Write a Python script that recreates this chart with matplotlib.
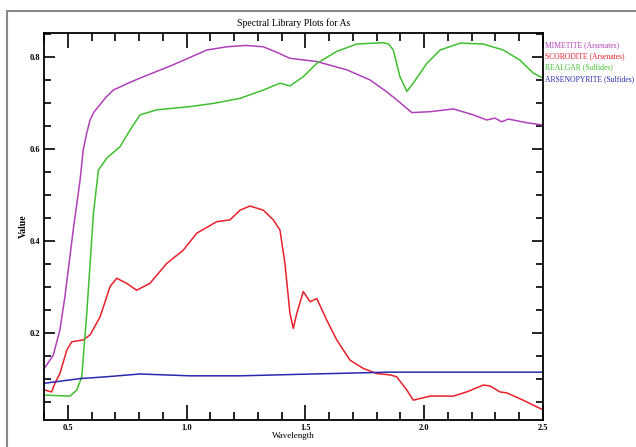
import matplotlib
matplotlib.use("Agg")
import matplotlib.pyplot as plt
from matplotlib.ticker import MultipleLocator
from matplotlib.patches import Rectangle

# spectra (wavelength, value)
mim_w = [0.404, 0.439, 0.467, 0.488, 0.523, 0.552, 0.565, 0.580, 0.594, 0.610, 0.629, 0.660,
         0.692, 0.750, 0.804, 0.944, 1.085, 1.169, 1.25, 1.323, 1.38, 1.435, 1.548, 1.674,
         1.772, 1.84, 1.884, 1.948, 2.025, 2.123, 2.207, 2.263, 2.298, 2.326, 2.354, 2.432, 2.5]
mim_v = [0.125, 0.152, 0.207, 0.279, 0.424, 0.533, 0.598, 0.635, 0.663, 0.680, 0.692, 0.712,
         0.728, 0.742, 0.754, 0.783, 0.815, 0.822, 0.825, 0.822, 0.81, 0.797, 0.79, 0.772,
         0.75, 0.725, 0.707, 0.679, 0.681, 0.687, 0.674, 0.663, 0.667, 0.659, 0.665, 0.657, 0.652]

sco_w = [0.404, 0.432, 0.446, 0.467, 0.496, 0.517, 0.565, 0.594, 0.636, 0.678, 0.706, 0.748,
         0.790, 0.846, 0.916, 0.986, 1.043, 1.127, 1.183, 1.225, 1.267, 1.323, 1.365, 1.393,
         1.414, 1.435, 1.449, 1.464, 1.491, 1.520, 1.548, 1.590, 1.632, 1.688, 1.744, 1.800,
         1.856, 1.884, 1.927, 1.954, 2.025, 2.123, 2.179, 2.249, 2.277, 2.319, 2.347, 2.417, 2.5]
sco_v = [0.076, 0.072, 0.091, 0.112, 0.163, 0.181, 0.185, 0.196, 0.235, 0.301, 0.319, 0.308,
         0.293, 0.308, 0.351, 0.380, 0.417, 0.442, 0.446, 0.467, 0.476, 0.467, 0.446, 0.424,
         0.351, 0.243, 0.210, 0.243, 0.290, 0.268, 0.275, 0.228, 0.185, 0.141, 0.123, 0.112,
         0.109, 0.105, 0.076, 0.054, 0.063, 0.063, 0.072, 0.087, 0.085, 0.072, 0.070, 0.054, 0.033]

rea_w = [0.404, 0.509, 0.538, 0.559, 0.580, 0.594, 0.608, 0.629, 0.664, 0.720, 0.762, 0.804,
         0.874, 1.014, 1.113, 1.225, 1.323, 1.393, 1.435, 1.491, 1.548, 1.632, 1.716, 1.828,
         1.850, 1.870, 1.898, 1.927, 1.954, 2.011, 2.067, 2.151, 2.249, 2.333, 2.403, 2.459, 2.5]
rea_v = [0.065, 0.063, 0.076, 0.105, 0.243, 0.351, 0.460, 0.554, 0.580, 0.605, 0.641, 0.674,
         0.685, 0.692, 0.699, 0.710, 0.728, 0.743, 0.737, 0.757, 0.786, 0.812, 0.828, 0.831,
         0.828, 0.815, 0.757, 0.725, 0.743, 0.786, 0.815, 0.830, 0.828, 0.815, 0.793, 0.765, 0.754]

ars_w = [0.404, 0.552, 0.664, 0.804, 1.014, 1.225, 1.533, 1.856, 2.2, 2.5]
ars_v = [0.091, 0.101, 0.105, 0.111, 0.107, 0.107, 0.111, 0.115, 0.115, 0.115]

names = ["MIMETITE (Arsenates)", "SCORODITE (Arsenates)", "REALGAR (Sulfides)",
         "ARSENOPYRITE (Sulfides)"]
colors = ["#b040b8", "#e8202a", "#40c030", "#2828b0"]

serif = "Liberation Serif"

fig = plt.figure(figsize=(6.36, 4.47), dpi=100)
ax = fig.add_axes([44 / 636, 27 / 447, 499 / 636, 387 / 447])

series = [(mim_w, mim_v), (sco_w, sco_v), (rea_w, rea_v), (ars_w, ars_v)]
for (w, v), c in zip(series, colors):
    ax.plot(w, v, color=c, lw=1.1)

ax.set_xlim(0.4, 2.5)
ax.set_ylim(0.011, 0.852)

ax.xaxis.set_major_locator(MultipleLocator(0.5))
ax.xaxis.set_minor_locator(MultipleLocator(0.1))
ax.yaxis.set_major_locator(MultipleLocator(0.2))
ax.yaxis.set_minor_locator(MultipleLocator(0.05))
ax.tick_params(axis="x", which="major", direction="in", length=11, width=1.2,
               top=True, labelsize=6, pad=3)
ax.tick_params(axis="x", which="minor", direction="in", length=6, width=1.2, top=True)
ax.tick_params(axis="y", which="major", direction="in", length=8, width=1.2,
               right=True, labelsize=6, pad=3)
ax.tick_params(axis="y", which="minor", direction="in", length=5, width=1.2, right=True)
ax.xaxis.set_major_formatter(plt.FuncFormatter(lambda x, p: f"{x:.1f}"))
ax.yaxis.set_major_formatter(plt.FuncFormatter(lambda y, p: f"{y:.1f}"))
for lab in ax.get_xticklabels() + ax.get_yticklabels():
    lab.set_fontfamily(serif)
    lab.set_fontweight("bold")

for s in ax.spines.values():
    s.set_linewidth(1.3)

ax.set_title("Spectral Library Plots for As", fontsize=7, family=serif, pad=5)
ax.set_xlabel("Wavelength", fontsize=6.5, family=serif, labelpad=0)
ax.set_ylabel("Value", fontsize=7, family=serif, fontweight="bold", labelpad=1)

# text legend to the right of the axes
for i, (n, c) in enumerate(zip(names, colors)):
    fig.text(545 / 636, 1 - (45 + 11.3 * i) / 447, n, color=c, fontsize=5.5,
             family=serif, va="center", ha="left")

# grey page frame
fig.add_artist(Rectangle((7 / 636, -0.1), 1.2, 0.1 + (447 - 11) / 447,
                         transform=fig.transFigure, fill=False,
                         edgecolor="#8a8a8a", lw=1.5))

fig.savefig("out.png", dpi=100)
